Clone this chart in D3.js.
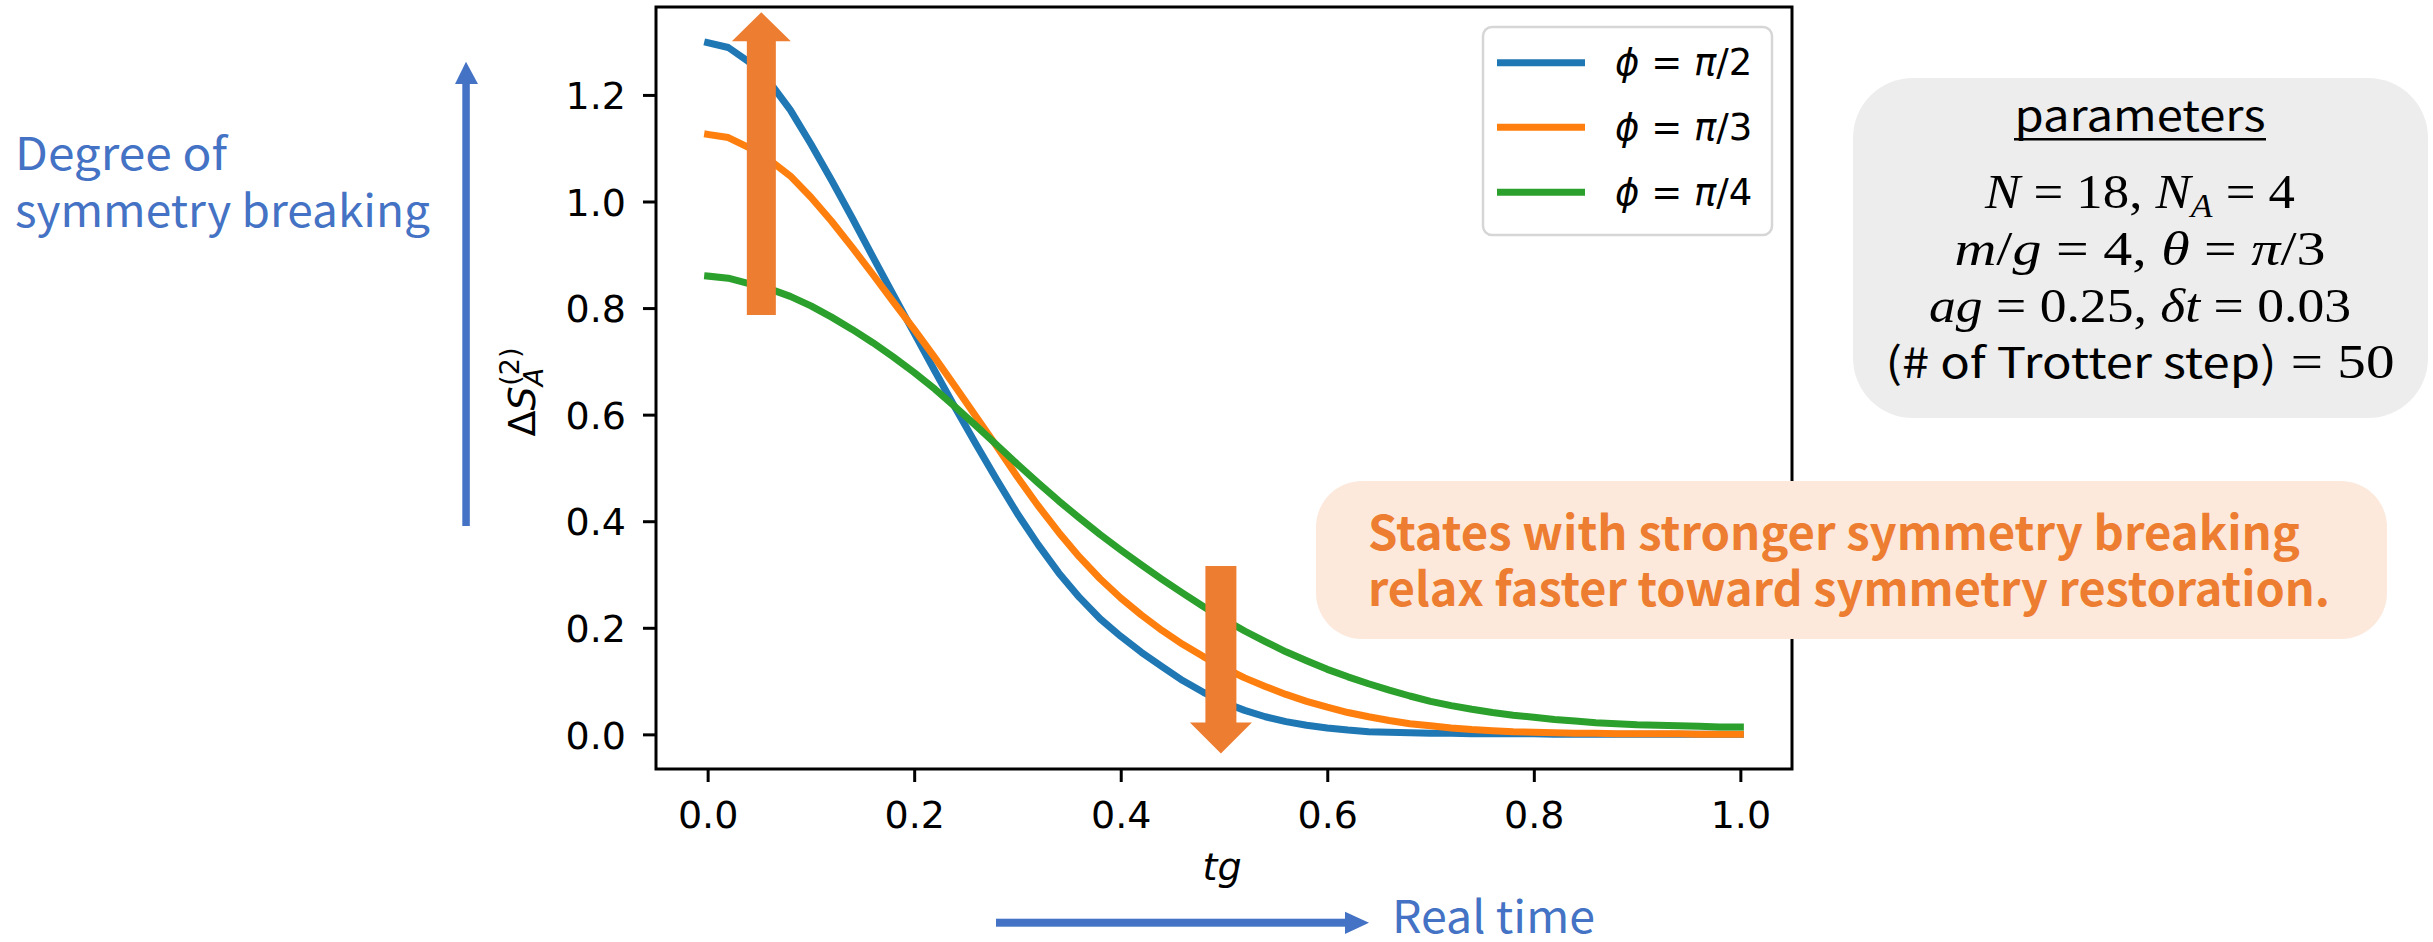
<!DOCTYPE html>
<html><head><meta charset="utf-8">
<script src="https://cdn.jsdelivr.net/npm/d3@7"></script>
<style>body{margin:0;background:#fff} svg{display:block}</style>
</head><body>
<svg id="c" width="2433" height="942"></svg>
<script>
// ---- data ----
const tg = [0,0.02,0.04,0.06,0.08,0.10,0.12,0.14,0.16,0.18,0.20,0.22,0.24,0.26,0.28,0.30,0.32,0.34,0.36,0.38,0.40,0.42,0.44,0.46,0.48,0.50,0.52,0.54,0.56,0.58,0.60,0.62,0.64,0.66,0.68,0.70,0.72,0.74,0.76,0.78,0.80,0.82,0.84,0.86,0.88,0.90,0.92,0.94,0.96,0.98,1.00];
const phiHalf = [1.298,1.289,1.262,1.224,1.172,1.108,1.040,0.969,0.896,0.824,0.753,0.682,0.612,0.544,0.478,0.414,0.356,0.303,0.257,0.217,0.184,0.154,0.127,0.101,0.079,0.060,0.045,0.033,0.024,0.017,0.012,0.008,0.005,0.004,0.003,0.002,0.002,0.001,0.001,0.001,0.001,0,0,0,0,0,0,0,0,0,0];
const phiThird = [1.126,1.120,1.101,1.078,1.048,1.008,0.963,0.914,0.863,0.811,0.760,0.707,0.652,0.596,0.540,0.483,0.429,0.379,0.333,0.292,0.256,0.224,0.195,0.169,0.146,0.125,0.106,0.090,0.075,0.062,0.051,0.041,0.033,0.026,0.020,0.016,0.012,0.009,0.007,0.005,0.004,0.003,0.002,0.002,0.001,0.001,0.001,0.001,0,0,0];
const phiQuarter = [0.860,0.856,0.846,0.836,0.822,0.804,0.783,0.760,0.735,0.708,0.679,0.648,0.614,0.579,0.543,0.507,0.472,0.438,0.406,0.375,0.346,0.318,0.291,0.265,0.240,0.216,0.194,0.174,0.155,0.138,0.122,0.108,0.095,0.083,0.072,0.062,0.054,0.047,0.041,0.036,0.032,0.028,0.025,0.022,0.020,0.018,0.017,0.016,0.015,0.014,0.014];
const seriesLabels = ["π/2","π/3","π/4"];
const xTicks = [0,0.2,0.4,0.6,0.8,1.0];
const yTicks = [0,0.2,0.4,0.6,0.8,1.0,1.2];

const colors = ["#1f77b4","#ff7f0e","#2ca02c"];
const series = [phiHalf, phiThird, phiQuarter];

const svg = d3.select("#c");
const L=656, R=1792, T=7, B=769;
const x = d3.scaleLinear().domain([-0.05,1.05]).range([L,R]);
const y = d3.scaleLinear().domain([-0.065,1.365]).range([B,T]);

// axes
const fmt = d3.format(".1f");
const gx = svg.append("g").attr("transform",`translate(0,${B})`)
  .call(d3.axisBottom(x).tickValues(xTicks).tickFormat(fmt).tickSize(13).tickSizeOuter(0));
gx.select(".domain").remove();
gx.selectAll("line").attr("stroke","#000").attr("stroke-width",3);
gx.selectAll("text").attr("y",59).attr("dy",0).attr("font-family","DejaVu Sans").attr("font-size",38).attr("fill","#000");

const gy = svg.append("g").attr("transform",`translate(${L},0)`)
  .call(d3.axisLeft(y).tickValues(yTicks).tickFormat(fmt).tickSize(13).tickSizeOuter(0));
gy.select(".domain").remove();
gy.selectAll("line").attr("stroke","#000").attr("stroke-width",3);
gy.selectAll("text").attr("x",-30).attr("dy","0.36em").attr("font-family","DejaVu Sans").attr("font-size",38).attr("fill","#000");

// lines
const line = d3.line().x((d,i)=>x(tg[i])).y(d=>y(d));
series.forEach((s,k)=>{
  svg.append("path").datum(s).attr("d",line).attr("fill","none")
    .attr("stroke",colors[k]).attr("stroke-width",7).attr("stroke-linecap","square").attr("stroke-linejoin","round");
});

// frame
svg.append("rect").attr("x",L).attr("y",T).attr("width",R-L).attr("height",B-T)
  .attr("fill","none").attr("stroke","#000").attr("stroke-width",3);

// axis labels
svg.append("text").attr("x",1222).attr("y",880).attr("text-anchor","middle")
  .attr("font-family","DejaVu Sans").attr("font-style","italic").attr("font-size",38).text("tg");

const yl = svg.append("text").attr("transform","translate(535,392) rotate(-90)").attr("text-anchor","middle")
  .attr("font-family","DejaVu Sans").attr("font-size",38);
yl.append("tspan").text("Δ");
yl.append("tspan").attr("font-style","italic").text("S");
yl.append("tspan").attr("font-style","italic").attr("font-size",27).attr("dy",8).text("A");
yl.append("tspan").attr("font-size",27).attr("dx",-18).attr("dy",-24).text("(2)");

// legend
svg.append("rect").attr("x",1483).attr("y",27).attr("width",289).attr("height",208).attr("rx",9)
  .attr("fill","#fff").attr("stroke","#d6d6d6").attr("stroke-width",2.5);
const legY=[62.7,127.3,192.3];
seriesLabels.forEach((lab,k)=>{
  svg.append("line").attr("x1",1497).attr("x2",1585).attr("y1",legY[k]).attr("y2",legY[k])
    .attr("stroke",colors[k]).attr("stroke-width",7);
  const t = svg.append("text").attr("x",1615).attr("y",legY[k]+12.5)
    .attr("font-family","DejaVu Sans").attr("font-size",37);
  t.append("tspan").attr("font-style","italic").text("ϕ");
  t.append("tspan").text(" = ");
  t.append("tspan").attr("font-style","italic").text(lab.slice(0,1));
  t.append("tspan").text(lab.slice(1));
});

// orange arrows (annotations)
const orange="#ED7D31";
function vArrow(cx, yTail, yTip, shaftW, headW, headL){
  const dir = yTip<yTail ? 1 : -1; // up:1
  const yBase = yTip + dir*headL;
  const p = [[cx-shaftW/2,yTail],[cx-shaftW/2,yBase],[cx-headW/2,yBase],[cx,yTip],[cx+headW/2,yBase],[cx+shaftW/2,yBase],[cx+shaftW/2,yTail]];
  return "M"+p.map(d=>d.join(",")).join("L")+"Z";
}
svg.append("path").attr("d",vArrow(x(0.052),y(0.787),y(1.355),29,59,29)).attr("fill",orange);
svg.append("path").attr("d",vArrow(x(0.497),y(0.316),y(-0.036),31,62,31)).attr("fill",orange);

// callout box
svg.append("rect").attr("x",1316).attr("y",481).attr("width",1071).attr("height",158).attr("rx",46)
  .attr("fill","#FCE9DC");
const cf = "'Noto Sans CJK JP', sans-serif";
svg.append("text").attr("x",1368).attr("y",550).attr("font-family",cf).attr("font-weight",700)
  .attr("font-size",47).attr("fill",orange).attr("textLength",932).attr("lengthAdjust","spacingAndGlyphs")
  .text("States with stronger symmetry breaking");
svg.append("text").attr("x",1368).attr("y",606).attr("font-family",cf).attr("font-weight",700)
  .attr("font-size",47).attr("fill",orange).attr("textLength",962).attr("lengthAdjust","spacingAndGlyphs")
  .text("relax faster toward symmetry restoration.");

// blue side annotations
const blue="#4472C4";
svg.append("rect").attr("x",462.3).attr("y",80).attr("width",7.5).attr("height",446).attr("fill",blue);
svg.append("path").attr("d","M455,84L466,61.7L478,84Z").attr("fill",blue);
svg.append("text").attr("x",15).attr("y",170).attr("font-family",cf).attr("font-size",45).attr("fill",blue)
  .attr("textLength",212).attr("lengthAdjust","spacingAndGlyphs").text("Degree of");
svg.append("text").attr("x",15).attr("y",227).attr("font-family",cf).attr("font-size",45).attr("fill",blue)
  .attr("textLength",415).attr("lengthAdjust","spacingAndGlyphs").text("symmetry breaking");

svg.append("rect").attr("x",996).attr("y",918.7).attr("width",352).attr("height",8).attr("fill",blue);
svg.append("path").attr("d","M1345,911.7L1369,922.7L1345,934Z").attr("fill",blue);
svg.append("text").attr("x",1392).attr("y",933).attr("font-family",cf).attr("font-size",45).attr("fill",blue)
  .attr("textLength",203).attr("lengthAdjust","spacingAndGlyphs").text("Real time");

// parameters box
svg.append("rect").attr("x",1853).attr("y",78).attr("width",575).attr("height",340).attr("rx",60).attr("fill","#EDEDED");
const pcx = 2140;
svg.append("text").attr("x",pcx).attr("y",131).attr("text-anchor","middle").attr("font-family",cf)
  .attr("font-size",42).attr("textLength",251).attr("lengthAdjust","spacingAndGlyphs").text("parameters");
svg.append("rect").attr("x",pcx-126).attr("y",138).attr("width",252).attr("height",2.5).attr("fill","#000");

const serif = "'Liberation Serif', serif";
function mathLine(yy, parts, w){
  const t = svg.append("text").attr("x",pcx).attr("y",yy).attr("text-anchor","middle")
    .attr("font-family",serif).attr("font-size",49).attr("textLength",w).attr("lengthAdjust","spacingAndGlyphs");
  parts.forEach(p=>{
    const s = t.append("tspan").text(p.t);
    if(p.i) s.attr("font-style","italic");
    if(p.f) s.attr("font-family",p.f).attr("font-size",42);
    if(p.dy) s.attr("dy",p.dy);
    if(p.fs) s.attr("font-size",p.fs);
  });
}
mathLine(208,[{t:"N",i:1},{t:" = 18, "},{t:"N",i:1},{t:"A",i:1,fs:33,dy:9},{t:" = 4",dy:-9}],310);
mathLine(265,[{t:"m",i:1},{t:"/"},{t:"g",i:1},{t:" = 4, "},{t:"θ",i:1},{t:" = "},{t:"π",i:1},{t:"/3"}],371);
mathLine(322,[{t:"ag",i:1},{t:" = 0.25, "},{t:"δt",i:1},{t:" = 0.03"}],422);
mathLine(378,[{t:"(# of Trotter step)",f:cf},{t:" = 50"}],509);
</script>
</body></html>
